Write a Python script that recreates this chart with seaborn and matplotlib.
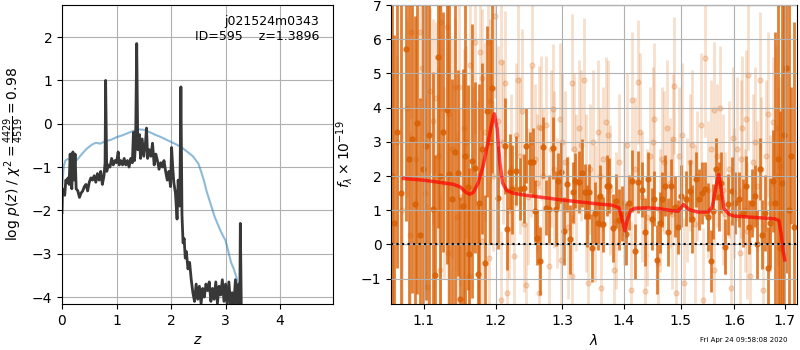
import matplotlib
matplotlib.use("Agg")
import matplotlib.pyplot as plt
import matplotlib.ticker as mticker
import seaborn as sns

# -----------------------------
# LEFT PANEL : log p(z) and prior/chi2 curve
# -----------------------------
pz_z = [0.00, 0.01, 0.03, 0.05, 0.07, 0.09, 0.11, 0.13, 0.15, 0.16,
        0.18, 0.20, 0.22, 0.24, 0.26, 0.29, 0.32, 0.35, 0.38, 0.41,
        0.44, 0.47, 0.50, 0.53, 0.56, 0.59, 0.62, 0.65, 0.68, 0.71,
        0.74, 0.77, 0.79, 0.80, 0.82, 0.85, 0.88, 0.91, 0.94, 0.97,
        1.00, 1.03, 1.05, 1.08, 1.11, 1.14, 1.17, 1.20, 1.23, 1.26,
        1.29, 1.31, 1.33, 1.35, 1.37, 1.39, 1.42, 1.44, 1.47, 1.50,
        1.53, 1.55, 1.57, 1.60, 1.63, 1.66, 1.69, 1.72, 1.75, 1.78,
        1.81, 1.84, 1.87, 1.90, 1.93, 1.96, 1.99, 2.01, 2.03, 2.05,
        2.08, 2.11, 2.13, 2.16, 2.18, 2.20, 2.22, 2.24, 2.26, 2.28,
        2.31, 2.34, 2.37, 2.40, 2.43, 2.46, 2.49, 2.52, 2.55, 2.58,
        2.61, 2.64, 2.67, 2.70, 2.73, 2.76, 2.79, 2.82, 2.85, 2.88,
        2.91, 2.94, 2.97, 3.00, 3.03, 3.06, 3.09, 3.12, 3.15, 3.18,
        3.21, 3.24, 3.26, 3.27, 3.29, 3.31]
pz_logp = [-2.05, -1.50, -1.60, -1.65, -1.30, -1.35, -1.25, -1.40, -0.70, -1.20,
           -1.50, -0.65, -1.30, -0.70, -1.50, -1.55, -1.70, -1.60, -1.55, -1.45,
           -1.40, -1.55, -1.35, -1.25, -1.30, -1.20, -1.35, -1.15, -1.30, -1.10,
           -1.40, -1.20, -0.90, 1.00, -1.10, -0.95, -1.00, -0.80, -0.95, -0.85,
           -0.90, -0.65, -0.95, -0.85, -0.95, -0.80, -0.95, -0.85, -1.00, -0.80,
           -0.90, -0.20, -0.85, -0.40, 1.85, -0.60, -0.25, -0.80, -0.35, -0.75,
           -0.45, -0.10, -0.80, -0.60, -0.75, -0.45, -0.95, -0.70, -0.85, -1.05,
           -0.90, -1.00, -0.85, -1.10, -1.30, -1.10, -1.45, -0.55, -1.00, -1.35,
           -1.60, -2.20, -1.30, -1.90, 0.85, -2.10, -2.75, -2.65, -3.10, -2.95,
           -3.35, -3.20, -3.60, -3.90, -4.10, -3.70, -4.05, -3.75, -4.15, -3.80,
           -4.00, -3.70, -3.85, -3.65, -4.10, -3.80, -4.05, -3.65, -4.15, -3.75,
           -3.95, -3.60, -4.10, -3.70, -4.20, -3.65, -4.15, -3.90, -4.20, -3.60,
           -4.25, -3.70, -4.30, -2.30, -4.50, -5.00]

prior_z = [0.00, 0.03, 0.06, 0.10, 0.17, 0.26, 0.30, 0.35, 0.45, 0.55,
           0.62, 0.70, 0.80, 0.90, 1.00, 1.10, 1.20, 1.30, 1.40, 1.50,
           1.60, 1.70, 1.80, 1.90, 2.00, 2.10, 2.20, 2.30, 2.40, 2.50,
           2.55, 2.60, 2.65, 2.70, 2.75, 2.80, 2.85, 2.90, 2.95, 3.00,
           3.05, 3.10, 3.15, 3.20, 3.25, 3.28, 3.30]
prior_logp = [-1.50, -1.00, -0.85, -0.82, -0.80, -0.85, -0.80, -0.72, -0.58, -0.48,
              -0.44, -0.46, -0.40, -0.37, -0.31, -0.27, -0.22, -0.17, -0.13, -0.14,
              -0.19, -0.25, -0.30, -0.36, -0.42, -0.48, -0.55, -0.65, -0.75, -0.92,
              -1.10, -1.30, -1.55, -1.75, -1.95, -2.15, -2.30, -2.45, -2.58, -2.70,
              -2.95, -3.20, -3.35, -3.55, -3.85, -4.20, -5.00]

# -----------------------------
# RIGHT PANEL : spectrum (two beams) and model
# -----------------------------
dark_lam = [1.059, 1.061, 1.066, 1.071, 1.077, 1.081, 1.085, 1.089, 1.092, 1.095,
            1.099, 1.103, 1.107, 1.112, 1.116, 1.119, 1.122, 1.126, 1.131, 1.134,
            1.138, 1.142, 1.147, 1.149, 1.153, 1.157, 1.161, 1.162, 1.166, 1.170,
            1.174, 1.176, 1.180, 1.185, 1.188, 1.192, 1.195,
            1.204, 1.213, 1.216, 1.221, 1.224, 1.230, 1.236, 1.241, 1.245, 1.250,
            1.255, 1.258, 1.261, 1.266, 1.271, 1.275, 1.279, 1.286, 1.290, 1.294,
            1.298, 1.303, 1.308, 1.312, 1.317, 1.321, 1.326, 1.331, 1.336, 1.339,
            1.343, 1.348, 1.352, 1.357,
            1.360, 1.365, 1.372, 1.376, 1.383, 1.388, 1.393, 1.398, 1.404, 1.410,
            1.415, 1.420, 1.425, 1.431, 1.437, 1.442, 1.448, 1.453, 1.457, 1.463,
            1.467, 1.471, 1.477, 1.482, 1.489, 1.495, 1.501, 1.509, 1.516, 1.521,
            1.528, 1.533,
            1.538, 1.544, 1.550, 1.555, 1.560, 1.564, 1.570, 1.575, 1.582, 1.587,
            1.595, 1.601, 1.609, 1.616, 1.623, 1.629, 1.635, 1.640, 1.645, 1.650,
            1.654, 1.661, 1.666, 1.671, 1.676, 1.681, 1.686, 1.690, 1.694, 1.698,
            1.703, 1.708, 1.714, 1.720]
dark_flux = [2.00, 0.62, 3.30, 1.50, 5.70, 2.50, 3.09, 1.18, 3.56, 0.29,
             2.20, 2.89, 3.19, 1.03, -0.88, 5.49, 2.00, 3.29, 3.92, 2.06,
             1.34, 2.70, 2.09, -1.60, 1.13, 2.60, 1.67, -0.27, 2.45, 2.25,
             -0.85, 1.20, 2.80, -0.54, 3.89, 3.00, 4.58,
             1.37, 2.89, 0.46, 2.13, 1.62, 2.16, 1.62, 1.64, 2.89, 2.40,
             2.40, 0.98, 0.20, -0.49, 2.84, 1.08, 1.03, 2.82, 1.05, 1.86,
             2.11, 0.39, 1.76, 0.15, 1.52, 1.86, 1.83, 2.09, 1.54, 0.83,
             1.54, -0.10, 0.93, 0.64,
             1.42, 0.59, 1.72, 1.72, 0.49, 1.27, 0.73, 0.90, 0.30, 1.22,
             1.86, -0.20, 1.83, 1.60, 0.37, 1.91, 0.74, 1.34, -0.44, 0.64,
             1.32, 1.72, 0.36, 1.70, 1.11, 0.51, 1.42, 1.34, 1.57, 0.74,
             1.91, 1.32,
             1.51, 1.62, 0.80, -0.49, 0.97, 2.21, 1.40, 1.81, -0.06, 1.17,
             1.57, 1.22, 1.32, 0.92, 1.70, 0.51, 1.22, 1.42, 0.00, 2.20,
             0.29, 0.92, -0.69, 0.64, 1.86, 1.20, 2.50, -0.10, 1.80, 3.20,
             5.17, 1.00, 2.60, 0.50]
dark_err = [6.0, 5.5, 4.0, 6.0, 5.0, 6.0, 4.5, 5.5, 5.0, 4.0,
            6.0, 4.5, 5.5, 4.0, 3.5, 5.0, 6.0, 3.5, 4.5, 5.0,
            3.5, 4.5, 3.0, 3.0, 4.0, 4.5, 3.0, 2.5, 4.0, 2.5,
            2.0, 3.5, 2.5, 2.0, 2.5, 3.0, 2.5,
            1.5, 1.4, 1.2, 1.1, 1.3, 1.0, 0.9, 1.0, 1.1, 0.9,
            1.0, 0.9, 0.8, 1.0, 0.9, 0.8, 1.0, 0.9, 1.1, 0.8,
            0.9, 1.0, 0.8, 1.0, 0.9, 0.8, 0.9, 1.0, 0.8, 0.9,
            0.8, 1.0, 0.9, 0.8,
            0.9, 0.8, 0.9, 0.8, 1.0, 0.8, 0.9, 0.8, 0.9, 0.8,
            0.9, 0.8, 0.9, 0.8, 1.0, 0.8, 0.9, 0.8, 1.0, 0.9,
            0.8, 0.9, 1.0, 0.8, 0.9, 0.8, 0.9, 0.8, 0.9, 1.0,
            0.8, 0.9,
            0.9, 0.8, 1.0, 0.9, 0.8, 0.9, 1.0, 0.9, 0.8, 0.9,
            1.0, 0.9, 0.8, 1.0, 0.9, 0.8, 1.0, 0.9, 1.0, 0.9,
            1.0, 1.1, 1.2, 1.3, 1.5, 5.0, 6.0, 4.0, 6.0, 5.0,
            6.0, 6.0, 2.0, 6.0]

light_lam = [1.084, 1.095, 1.098, 1.117, 1.124, 1.132, 1.142, 1.148, 1.164, 1.171,
             1.178, 1.180, 1.189, 1.199, 1.207, 1.213, 1.232, 1.254, 1.264, 1.275,
             1.286, 1.296, 1.316, 1.334, 1.357, 1.370, 1.415, 1.424, 1.452, 1.486,
             1.488, 1.544, 1.561, 1.573, 1.615, 1.622, 1.627, 1.650, 1.676,
             1.082, 1.105, 1.122, 1.133, 1.162, 1.180, 1.190, 1.207, 1.217, 1.227,
             1.244, 1.264, 1.279, 1.299, 1.315, 1.341, 1.363, 1.384, 1.412, 1.436,
             1.459, 1.491, 1.506, 1.540, 1.561, 1.593, 1.611, 1.631, 1.657,
             1.090, 1.112, 1.128, 1.138, 1.150, 1.158, 1.168, 1.185, 1.196, 1.210,
             1.222, 1.238, 1.248, 1.258, 1.270, 1.282, 1.292, 1.304, 1.322, 1.330,
             1.345, 1.352, 1.366, 1.378, 1.392, 1.400, 1.420, 1.432, 1.445, 1.462,
             1.470, 1.480, 1.497, 1.512, 1.520, 1.530, 1.550, 1.567, 1.582, 1.590,
             1.600, 1.606, 1.620, 1.636, 1.645, 1.662, 1.670, 1.682, 1.690,
             1.065, 1.072, 1.078, 1.102, 1.108, 1.120, 1.135, 1.145, 1.155, 1.175,
             1.192, 1.203, 1.219, 1.229, 1.235, 1.242, 1.252, 1.261, 1.268, 1.288,
             1.300, 1.310, 1.319, 1.327, 1.338, 1.349, 1.360, 1.374, 1.388, 1.405,
             1.428, 1.440, 1.450, 1.466, 1.476, 1.484, 1.502, 1.516, 1.526, 1.536,
             1.556, 1.578, 1.598, 1.612, 1.625, 1.640, 1.653, 1.666, 1.686]
light_flux = [6.20, 6.20, 5.15, 4.29, 6.49, 6.37, 4.61, 4.61, 5.26, 5.93,
              5.64, 4.87, 5.93, 6.67, 5.34, 4.73, 4.82, 5.26, 3.43, 3.50,
              3.97, 3.68, 4.73, 4.82, 3.28, 3.58, 4.21, 4.75, 3.68, 3.09,
              4.64, 5.44, 3.92, 3.99, 3.40, 3.68, 4.95, 4.80, 3.58,
              0.29, -1.23, -0.74, -0.25, -0.93, 0.10, -0.39, -1.62, -1.42, -0.34,
              -1.18, -1.42, -0.64, -0.44, -0.93, -1.13, -1.27, -0.74, -1.32, -1.37,
              -0.54, -1.42, -1.13, -1.62, -0.74, -1.27, -0.25, -0.93, -1.32,
              2.50, 3.60, 1.80, 2.80, 1.40, 3.00, 2.20, 3.30, 2.00, 3.00,
              2.20, 3.90, 1.40, 2.50, 2.00, 2.80, 1.20, 2.40, 1.80, 2.90,
              2.20, 0.90, 2.50, 1.60, 2.40, 1.20, 2.20, 1.40, 2.60, 1.00,
              2.40, 1.80, 2.60, 1.30, 2.90, 2.00, 1.60, 2.60, 0.90, 2.20,
              1.50, 2.80, 1.00, 2.40, 1.70, 2.60, 1.20, 3.40, 2.30,
              3.00, 1.00, 4.00, 1.50, 4.50, 2.60, 3.80, 0.80, 3.40, 2.00,
              4.20, 3.60, 1.00, 3.20, 2.60, 0.60, 3.00, 1.80, 3.40, 2.20,
              3.00, 0.50, 2.80, 3.40, 1.50, 3.00, 2.00, 3.20, 0.70, 2.90,
              3.30, 0.80, 3.00, 2.50, 3.40, 0.90, 3.20, 2.40, 0.60, 3.50,
              2.80, 1.60, 3.10, 2.50, 0.40, 3.00, 2.20, 3.80, 2.00]
light_err = [2.5, 2.0, 2.8, 2.2, 2.6, 2.4, 2.0, 2.5, 2.2, 2.7,
             2.3, 2.0, 2.6, 2.4, 2.5, 2.1, 2.2, 2.0, 1.8, 2.0,
             1.9, 2.2, 2.0, 1.8, 2.1, 1.9, 2.0, 1.8, 2.2, 1.9,
             2.0, 2.3, 2.0, 1.8, 2.1, 2.0, 2.2, 2.0, 1.9,
             3.0, 2.4, 2.2, 2.0, 2.6, 2.4, 2.2, 2.0, 1.9, 2.1,
             1.8, 2.0, 1.9, 2.1, 1.8, 2.0, 1.9, 1.8, 2.0, 1.9,
             1.8, 2.0, 1.9, 2.1, 1.8, 2.0, 1.9, 2.1, 2.0,
             3.5, 3.0, 2.8, 3.2, 2.6, 2.8, 2.4, 2.6, 2.2, 2.4,
             2.2, 2.4, 2.0, 2.2, 2.0, 2.3, 1.9, 2.1, 2.0, 2.2,
             1.9, 2.0, 2.1, 1.9, 2.0, 1.8, 2.1, 1.9, 2.0, 1.8,
             2.1, 1.9, 2.0, 1.8, 2.2, 1.9, 2.0, 2.1, 1.8, 2.0,
             1.9, 2.1, 1.8, 2.0, 1.9, 2.2, 2.0, 2.4, 2.6,
             2.5, 3.0, 2.6, 2.8, 2.4, 2.6, 2.2, 2.5, 2.3, 2.2,
             2.4, 2.2, 2.0, 2.1, 2.3, 2.0, 2.2, 2.0, 2.1, 2.3,
             2.0, 2.1, 2.2, 2.0, 2.3, 2.1, 2.0, 2.2, 2.0, 2.1,
             2.3, 2.0, 2.2, 2.1, 2.0, 2.2, 2.1, 2.0, 2.3, 2.1,
             2.0, 2.2, 2.1, 2.3, 2.0, 2.2, 2.1, 2.4, 2.6]

model_lam = [1.074, 1.100, 1.120, 1.140, 1.150, 1.158, 1.163, 1.168, 1.175, 1.182,
             1.188, 1.194, 1.198, 1.202, 1.206, 1.210, 1.216, 1.225, 1.240, 1.260,
             1.280, 1.300, 1.320, 1.340, 1.360, 1.380, 1.392, 1.398, 1.402, 1.406,
             1.412, 1.420, 1.440, 1.460, 1.480, 1.495, 1.505, 1.515, 1.530, 1.550,
             1.558, 1.565, 1.570, 1.575, 1.580, 1.590, 1.600, 1.620, 1.640, 1.660,
             1.680, 1.688, 1.693, 1.697, 1.700]
model_flux = [1.93, 1.88, 1.82, 1.76, 1.68, 1.52, 1.47, 1.52, 1.80, 2.30,
              2.90, 3.50, 3.82, 3.40, 2.40, 1.80, 1.58, 1.50, 1.45, 1.40,
              1.35, 1.30, 1.26, 1.22, 1.18, 1.15, 1.08, 0.70, 0.40, 0.70,
              1.00, 1.06, 1.07, 1.05, 1.00, 0.97, 1.17, 1.02, 0.95, 0.95,
              1.10, 1.70, 2.05, 1.60, 1.05, 0.88, 0.83, 0.81, 0.79, 0.77,
              0.75, 0.70, 0.30, -0.20, -0.45]

xtick_lam = [1.1, 1.2, 1.3, 1.4, 1.5, 1.6, 1.7]

spec_color = "#d95f02"

# -----------------------------
# FIGURE
# -----------------------------
fig = plt.figure(figsize=(8, 3.5), dpi=100)
ax1 = fig.add_axes([0.0775, 0.1314, 0.3388, 0.8543])
ax2 = fig.add_axes([0.489, 0.1314, 0.507, 0.8543])

sns.lineplot(x=prior_z, y=prior_logp, ax=ax1, color="tab:blue", alpha=0.5, lw=1.5)
sns.lineplot(x=pz_z, y=pz_logp, ax=ax1, color="0.22", lw=2)
ax1.set_xlim(0, 4.97)
ax1.set_ylim(-4.16, 2.74)
ax1.set_xticks([0, 1, 2, 3, 4])
ax1.set_yticks([-4, -3, -2, -1, 0, 1, 2])
ax1.grid(True)
ax1.set_xlabel(r"$z$")
ax1.set_ylabel(r"log $p(z)$ / $\chi^2=\frac{4429}{4519}=0.98$")
ax1.text(0.948, 0.965, "j021524m0343\nID=595    z=1.3896", transform=ax1.transAxes,
         ha="right", va="top", fontsize=9)

# spectrum error bars
ax2.errorbar(light_lam, light_flux, yerr=light_err, fmt="o", color=spec_color,
             alpha=0.2, ms=3.5, elinewidth=2, zorder=1)
ax2.errorbar(dark_lam, dark_flux, yerr=dark_err, fmt="o", color=spec_color,
             alpha=0.8, ms=3.5, elinewidth=2, zorder=2)
sns.lineplot(x=model_lam, y=model_flux, ax=ax2, color="r", alpha=0.7, lw=2.5, zorder=5)
ax2.axhline(0, color="k", ls=":", lw=1.5, zorder=6)

ax2.set_xscale("log")
ax2.set_xlim(1.058, 1.725)
ax2.set_ylim(-1.74, 7.0)
ax2.xaxis.set_major_locator(mticker.FixedLocator(xtick_lam))
ax2.xaxis.set_major_formatter(mticker.FormatStrFormatter("%.1f"))
ax2.xaxis.set_minor_locator(mticker.NullLocator())
ax2.set_yticks([-1, 0, 1, 2, 3, 4, 5, 6, 7])
ax2.set_axisbelow(False)
ax2.grid(True)
ax2.set_xlabel(r"$\lambda$")
ax2.set_ylabel(r"$f_\lambda\times10^{-19}$")

fig.text(0.984, 0.029, "Fri Apr 24 09:58:08 2020", ha="right", va="center", fontsize=5)

fig.savefig("out.png", dpi=100)
